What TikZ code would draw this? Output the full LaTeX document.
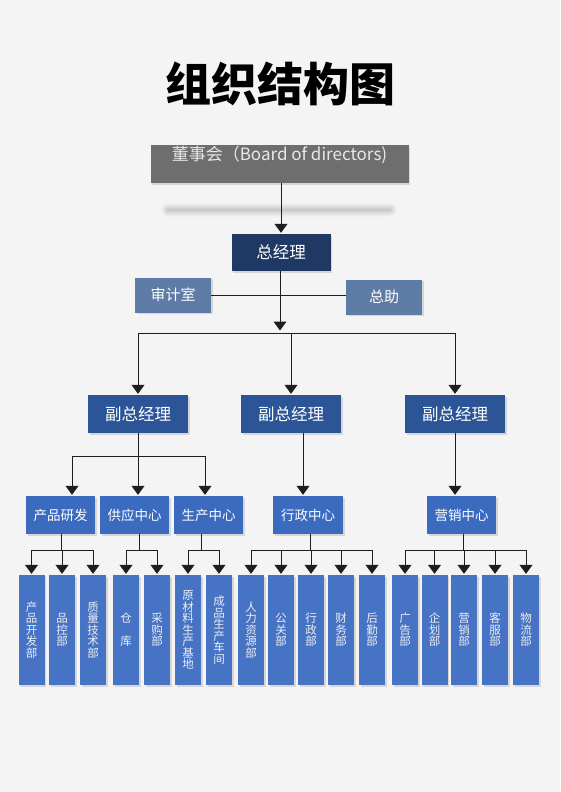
\documentclass[tikz,border=0pt]{standalone}
\usepackage{fontspec}
\setmainfont{Noto Sans CJK SC}
\usetikzlibrary{arrows.meta,shadows}

\definecolor{bgcol}{HTML}{F4F4F4}
\definecolor{boardcol}{HTML}{6E6E6E}
\definecolor{boardtext}{HTML}{E8E8E8}
\definecolor{gmcol}{HTML}{1F3864}
\definecolor{sidecol}{HTML}{5E7CA6}
\definecolor{vicecol}{HTML}{2C5597}
\definecolor{midcol}{HTML}{3A6BBF}
\definecolor{leafcol}{HTML}{4673C4}
\definecolor{leaftext}{HTML}{EDEEF5}
\definecolor{linecol}{HTML}{1E1E1E}

\tikzset{
  box/.style={rectangle,inner sep=0pt,text=white,
    drop shadow={shadow xshift=1.5pt,shadow yshift=-1.5pt,opacity=0.25}},
  boardbox/.style={box,fill=boardcol,minimum width=258pt,minimum height=38pt},
  gmbox/.style={box,fill=gmcol,minimum width=99pt,minimum height=37pt,font=\fontsize{16.5}{18}\selectfont},
  sidebox/.style={box,fill=sidecol,minimum width=76pt,minimum height=35pt,font=\fontsize{15}{17}\selectfont},
  vicebox/.style={box,fill=vicecol,minimum width=100pt,minimum height=38pt,font=\fontsize{16.5}{18}\selectfont},
  centerbox/.style={box,fill=midcol,minimum width=69pt,minimum height=38pt,font=\fontsize{13.5}{15}\selectfont},
  leafbox/.style={box,fill=leafcol,text=leaftext,minimum width=26pt,minimum height=110pt,
    align=center,font=\fontsize{11.5}{11.5}\selectfont},
  link/.style={draw=linecol,line width=1pt},
  arr/.style={link,-{Triangle[width=13pt,length=9pt]},shorten >=1pt},
}

\begin{document}
\begin{tikzpicture}[x=1pt,y=-1pt]
\fill[bgcol] (0,0) rectangle (560,792);
\useasboundingbox (0,0) rectangle (560,792);

\node[font=\bfseries\fontsize{46}{50}\selectfont] (title) at (280,84) {组织结构图};

% top level
\node[boardbox] (board) at (279.5,164) {};
\node[text=boardtext,font=\fontsize{17}{19}\selectfont] (boardlabel) at ([yshift=-10pt]board.north) {董事会（Board of directors)};
\foreach \w/\o in {14/0.03,12/0.04,10/0.05,8/0.06,6/0.07,4/0.08,2/0.08}
  \draw[line width=\w pt,gray,opacity=\o,line cap=round] (168,210) -- (390,210);
\node[gmbox] (gm) at (281,252.5) {总经理};
\node[sidebox] (audit) at (173,295) {审计室};
\node[sidebox] (assist) at (384,297) {总助};

% vice managers
\node[vicebox] (vice1) at (138,414) {副总经理};
\node[vicebox] (vice2) at (291,414) {副总经理};
\node[vicebox] (vice3) at (455,414) {副总经理};

% centers
\node[centerbox] (rd) at (60.5,515) {产品研发};
\node[centerbox] (supply) at (134.5,515) {供应中心};
\node[centerbox] (prod) at (208.5,515) {生产中心};
\node[centerbox,minimum width=70pt] (admin) at (308,515) {行政中心};
\node[centerbox] (sales) at (461.5,515) {营销中心};

% departments
\foreach \i/\x/\t in {1/31.5/{产\\品\\开\\发\\部},2/62/{品\\控\\部},3/93/{质\\量\\技\\术\\部},
    4/126/{仓\\[11.5pt]库},5/157/{采\\购\\部},6/188/{原\\材\\料\\生\\产\\基\\地},7/219/{成\\品\\生\\产\\车\\间},
    8/251/{人\\力\\资\\源\\部},9/281/{公\\关\\部},10/311/{行\\政\\部},11/341/{财\\务\\部},12/372/{后\\勤\\部},
    13/405/{广\\告\\部},14/434.5/{企\\划\\部},15/464/{营\\销\\部},16/495/{客\\服\\部},17/526/{物\\流\\部}}
  \node[leafbox] (b\i) at (\x,630) {\t};

% connectors
\draw[arr] (board.south -| gm.north) -- (gm.north);
\draw[link] (audit.east) -- (audit.east -| assist.west);
\coordinate (topbus) at (280,333);
\draw[arr,shorten >=2.5pt] (gm.south -| topbus) -- (topbus);
\draw[link] (vice1.north |- topbus) -- (vice3.north |- topbus);
\foreach \v in {vice1,vice2,vice3}
  \draw[arr] (\v.north |- topbus) -- (\v.north);

\coordinate (v1l) at (72,456);
\coordinate (v1r) at (205,456);
\draw[link] (v1l) -- (v1r);
\draw[arr] (v1l) -- (v1l |- rd.north);
\draw[arr] (vice1.south) -- (vice1.south |- supply.north);
\draw[arr] (v1r) -- (v1r |- prod.north);
\coordinate (v2x) at (303,456);
\draw[arr] (vice2.south -| v2x) -- (admin.north -| v2x);
\draw[arr] (vice3.south) -- (vice3.south |- sales.north);

\coordinate (lbus) at (0,550);
\foreach \c/\dx/\f/\l in {rd/61/1/3,supply/139/4/5,prod/201/6/7,admin/310/8/12,sales/463/13/17}{
  \draw[link] (\c.south -| \dx,0) -- (\dx,550);
  \draw[link] (b\f.north |- lbus) -- (b\l.north |- lbus);
  \foreach \i in {\f,...,\l}
    \draw[arr] (b\i.north |- lbus) -- (b\i.north);
}
\end{tikzpicture}
\end{document}
